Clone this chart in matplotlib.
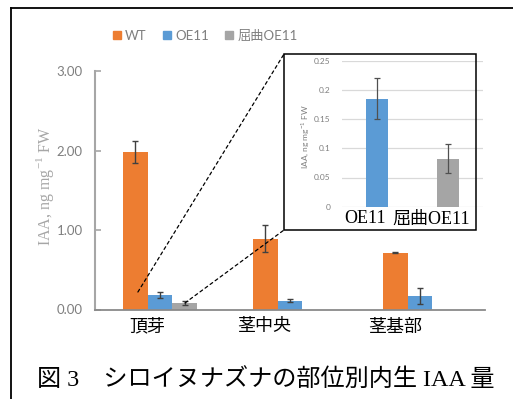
import numpy as np
import matplotlib
matplotlib.use("Agg")
import matplotlib.pyplot as plt
from matplotlib.patches import Rectangle, ConnectionPatch
from matplotlib.lines import Line2D

# IAA content by plant part (ng mg-1 FW)
categories = ["頂芽", "茎中央", "茎基部"]
series_names = ["WT", "OE11", "屈曲OE11"]
wt = [1.98, 0.89, 0.715]
wt_err = [0.14, 0.17, 0.01]
oe11 = [0.185, 0.11, 0.17]
oe11_err = [0.035, 0.02, 0.10]
bent = [0.082, np.nan, np.nan]
bent_err = [0.025, np.nan, np.nan]

main_ticks = [0, 1, 2, 3]
inset_labels = ["OE11", "屈曲OE11"]
inset_ticks = [0, 0.05, 0.1, 0.15, 0.2, 0.25]
inset_tick_text = ["0", "0.05", "0.1", "0.15", "0.2", "0.25"]

caption = "図 3　シロイヌナズナの部位別内生 IAA 量"

colors = ["#ED7D31", "#5B9BD5", "#A5A5A5"]
err_color = "#404040"
sans = ["Lato", "DejaVu Sans"]
serif_jp = ["Liberation Serif", "Noto Sans CJK JP"]

W, H = 513, 399
fig = plt.figure(figsize=(W / 100, H / 100), dpi=100)


def px_rect(x0, y0, x1, y1):
    return [x0 / W, 1 - y1 / H, (x1 - x0) / W, (y1 - y0) / H]


# frame (top and left edges)
fig.add_artist(Line2D([10.5 / W, 1], [1 - 8 / H, 1 - 8 / H], color="black", lw=1.3))
fig.add_artist(Line2D([10.5 / W, 10.5 / W], [0, 1 - 8 / H], color="black", lw=1.3))

# ---------------- main chart ----------------
ax = fig.add_axes(px_rect(95, 71, 485, 309.5))
x = np.arange(len(categories))
bw = 0.192
ekw = dict(ecolor=err_color, elinewidth=1.0, capsize=2.5, capthick=1.0)
for vals, errs, off, col in zip([wt, oe11, bent], [wt_err, oe11_err, bent_err],
                                [-bw, 0, bw], colors):
    ax.bar(x + off, vals, bw, color=col, yerr=errs, error_kw=ekw, zorder=2)

ax.set_xlim(-0.5, len(categories) - 0.5)
ax.set_ylim(0, 3)
ax.set_yticks(main_ticks)
ax.set_yticklabels([f"{v:.2f}" for v in main_ticks], family=sans, fontsize=9.5,
                   color="#7f7f7f")
ax.tick_params(axis="y", direction="in", length=4, width=1.2, color="#a6a6a6", pad=9)
ax.set_xticks([])
for s in ["top", "right"]:
    ax.spines[s].set_visible(False)
ax.spines["left"].set_color("#a6a6a6")
ax.spines["left"].set_linewidth(1.5)
ax.spines["bottom"].set_color("#8a8a8a")
ax.spines["bottom"].set_linewidth(1.3)
ax.patch.set_alpha(0)

label_shift = [-0.10, -0.20, -0.19]
for xi, lab, sh in zip(x, categories, label_shift):
    ax.text(xi + sh, -0.22, lab, ha="center", va="center", fontsize=13,
            family=serif_jp, color="black", clip_on=False)

fig.text(45 / W, 1 - 186 / H, r"IAA, ng mg$^{\mathregular{-1}}$ FW", rotation=90,
         ha="center", va="center", family=["Liberation Serif"], fontsize=11.5,
         color="#a6a6a6")

# legend
handles = [Line2D([], [], marker="s", ls="none", color=c, markersize=5.5) for c in colors]
leg = fig.legend(handles, series_names, loc="center", bbox_to_anchor=(205 / W, 1 - 36 / H),
                 ncol=3, frameon=False, handlelength=0.7, handletextpad=0.25,
                 columnspacing=1.2, prop={"family": ["Lato", "Noto Sans CJK JP"], "size": 9.5})
for t in leg.get_texts():
    t.set_color("#7f7f7f")

# ---------------- inset ----------------
box = [284, 54, 476, 230]
fig.add_artist(Rectangle((box[0] / W, 1 - box[3] / H), (box[2] - box[0]) / W,
                         (box[3] - box[1]) / H, transform=fig.transFigure,
                         facecolor="white", edgecolor="none", zorder=3))
axi = fig.add_axes(px_rect(341.7, 60.7, 483, 206.7), zorder=4)
axi.patch.set_alpha(0)
xi2 = np.arange(len(inset_labels))
inset_vals = [oe11[0], bent[0]]
inset_errs = [oe11_err[0], bent_err[0]]
axi.bar(xi2, inset_vals, 0.316, color=colors[1:], yerr=inset_errs,
        error_kw=dict(ecolor="#505050", elinewidth=0.9, capsize=2.5, capthick=0.9),
        zorder=2)
axi.set_xlim(-0.5, 1.5)
axi.set_ylim(0, 0.25)
axi.set_yticks(inset_ticks)
axi.set_yticklabels(inset_tick_text, family=sans, fontsize=6, color="#7f7f7f")
axi.tick_params(axis="y", length=0, pad=8)
axi.set_xticks([])
axi.grid(axis="y", color="#d9d9d9", lw=0.9, zorder=0)
axi.set_axisbelow(True)
for s in axi.spines.values():
    s.set_visible(False)
inset_shift = [-0.17, -0.23]
for xx, lab, sh in zip(xi2, inset_labels, inset_shift):
    axi.text(xx + sh, -0.021, lab, ha="center", va="center", fontsize=13,
             family=serif_jp, color="black", clip_on=False)
fig.text(305 / W, 1 - 137 / H, r"IAA, ng mg$^{\mathregular{-1}}$ FW", rotation=90,
         ha="center", va="center", family=sans, fontsize=6, color="#7f7f7f", zorder=5)
fig.add_artist(Rectangle((box[0] / W, 1 - box[3] / H), (box[2] - box[0]) / W,
                         (box[3] - box[1]) / H, transform=fig.transFigure,
                         facecolor="none", edgecolor="black", lw=1.1, zorder=6))

# zoom guide lines from the apical-bud bars to the inset corners
for start, corner in [((-0.17, 0.22), (box[0], box[1])),
                      ((bw, bent[0]), (box[0], box[3]))]:
    cp = ConnectionPatch(xyA=start, coordsA=ax.transData,
                         xyB=(corner[0] / W, 1 - corner[1] / H), coordsB=fig.transFigure,
                         color="black", lw=0.9, ls=(0, (2.5, 2.5)), zorder=7)
    fig.add_artist(cp)

# caption
fig.text(37 / W, 1 - 380 / H, caption, ha="left", va="center", fontsize=17.4,
         family=serif_jp, color="black")

fig.savefig("out.png", dpi=100)
